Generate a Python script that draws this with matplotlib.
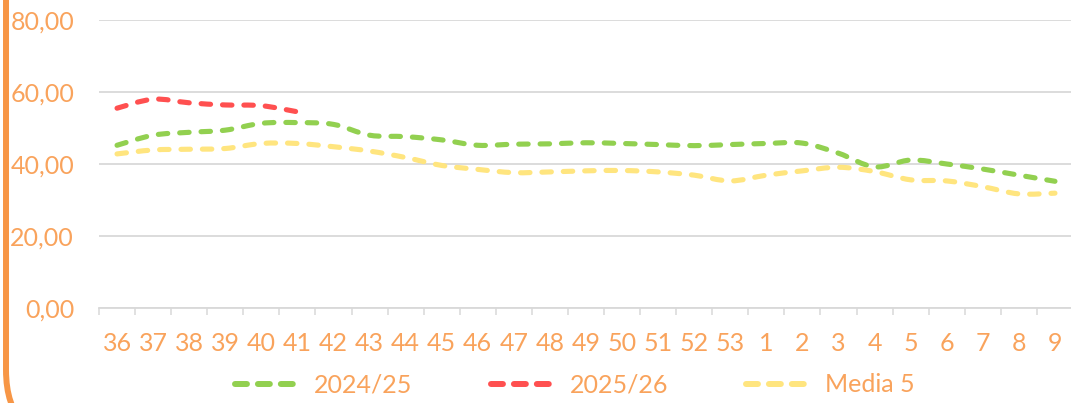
import numpy as np
import matplotlib
matplotlib.use("Agg")
import matplotlib.pyplot as plt
from matplotlib.path import Path
from matplotlib.patches import PathPatch, FancyBboxPatch
from matplotlib.lines import Line2D

# week labels and series values
weeks = ["36", "37", "38", "39", "40", "41", "42", "43", "44", "45", "46", "47", "48",
         "49", "50", "51", "52", "53", "1", "2", "3", "4", "5", "6", "7", "8", "9"]
season_2024 = [45.2, 48.0, 48.8, 49.4, 51.3, 51.5, 51.0, 48.0, 47.6, 46.7, 45.2, 45.5, 45.6,
               45.9, 45.7, 45.4, 45.1, 45.4, 45.7, 45.8, 43.0, 39.2, 41.1, 40.0, 38.6, 36.9, 35.2]
season_2025 = [55.5, 58.0, 57.0, 56.4, 56.2, 54.5]
media_5 = [42.8, 43.9, 44.1, 44.3, 45.7, 45.7, 44.8, 43.6, 41.8, 39.6, 38.5, 37.6, 37.8,
           38.1, 38.2, 37.8, 36.9, 35.3, 36.9, 38.1, 39.1, 37.9, 35.6, 35.3, 33.7, 31.7, 31.9]
yticks = [0, 20, 40, 60, 80]

text_color = "#F9A35C"
grid_color = "#D9D9D9"
series = [("2024/25", season_2024, "#92D050"),
          ("2025/26", season_2025, "#FF5050"),
          ("Media 5", media_5, "#FFE57F")]

plt.rcParams["font.family"] = ["Lato", "DejaVu Sans"]
plt.rcParams["lines.scale_dashes"] = False


def smooth_path(values):
    """Excel-like smoothed line: Catmull-Rom segments as cubic Beziers."""
    pts = np.column_stack([np.arange(len(values)), values]).astype(float)
    ext = np.vstack([pts[0], pts, pts[-1]])
    verts = [pts[0]]
    codes = [Path.MOVETO]
    for i in range(1, len(ext) - 2):
        p0, p1, p2, p3 = ext[i - 1], ext[i], ext[i + 1], ext[i + 2]
        verts += [p1 + (p2 - p0) / 6, p2 - (p3 - p1) / 6, p2]
        codes += [Path.CURVE4] * 3
    return Path(verts, codes)


fig = plt.figure(figsize=(10.71, 4.03), dpi=100, facecolor="white")
ax = fig.add_axes([99 / 1071, 1 - 308 / 403, 974 / 1071, 288 / 403])

dash = (0, (6.8, 8.6))
for name, vals, color in series:
    patch = PathPatch(smooth_path(vals), fill=False, edgecolor=color, lw=3.7,
                      linestyle=dash, capstyle="round", zorder=3)
    ax.add_patch(patch)

fs = 18
ax.set_xlim(-0.5, len(weeks) - 0.5)
ax.set_ylim(0, 80)
ax.set_yticks(yticks)
ax.set_yticklabels([f"{v:.2f}".replace(".", ",") for v in yticks])
ax.set_xticks(range(len(weeks)))
ax.set_xticklabels(weeks)
ax.set_xticks(np.arange(-0.5, len(weeks)), minor=True)
ax.tick_params(axis="x", which="major", length=0, pad=17, labelsize=fs, labelcolor=text_color)
ax.tick_params(axis="x", which="minor", length=5, width=1.1, color=grid_color)
ax.tick_params(axis="y", length=0, pad=18, labelsize=fs, labelcolor=text_color)
ax.grid(axis="y", color=grid_color, lw=1.3)
ax.set_axisbelow(True)
for side in ["top", "right", "left"]:
    ax.spines[side].set_visible(False)
ax.spines["bottom"].set_color(grid_color)
ax.spines["bottom"].set_linewidth(1.3)

handles = [Line2D([], [], color=c, lw=4.3, linestyle=(0, (8.6, 7.9)), dash_capstyle="round")
           for _, _, c in series]
em = fs * 100 / 72
leg = fig.legend(handles, [s[0] for s in series], loc="center", ncol=3,
                 bbox_to_anchor=(575 / 1071, 1 - 385 / 403), frameon=False,
                 fontsize=fs, handlelength=66 / em, handletextpad=13 / em,
                 columnspacing=78 / em)
for t in leg.get_texts():
    t.set_color(text_color)

# rounded orange chart border, mostly outside the cropped view
border = FancyBboxPatch((6, -39), 2000, 1000, boxstyle="round,pad=0,rounding_size=72",
                        fill=False, edgecolor="#F79646", lw=4.3, transform=None)
fig.add_artist(border)

fig.savefig("out.png", dpi=100, facecolor="white")
